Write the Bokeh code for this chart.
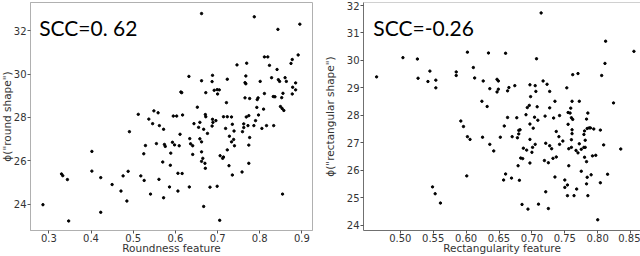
from bokeh.plotting import figure
from bokeh.layouts import row
from bokeh.models import FixedTicker, Range1d, Label, NumeralTickFormatter, LinearAxis
from bokeh.embed import file_html
from bokeh.resources import INLINE

# ---- left panel: roundness feature vs phi("round shape") ----
round_x = [0.512, 0.549, 0.559, 0.662, 0.787, 0.843, 0.895, 0.811, 0.819, 0.891,
           0.877, 0.874, 0.746, 0.769, 0.823, 0.841, 0.632, 0.688, 0.662, 0.687,
           0.723, 0.767, 0.765, 0.767, 0.801, 0.828, 0.844, 0.847, 0.860, 0.863,
           0.885, 0.878, 0.885, 0.613, 0.615, 0.672, 0.692, 0.699, 0.704, 0.700,
           0.811, 0.832, 0.836, 0.855, 0.877, 0.852, 0.765, 0.776, 0.796, 0.794,
           0.721, 0.652, 0.793, 0.809, 0.849, 0.853, 0.857, 0.595, 0.603, 0.617,
           0.671, 0.672, 0.714, 0.723, 0.733, 0.768, 0.774, 0.797, 0.537, 0.546,
           0.562, 0.572, 0.491, 0.529, 0.555, 0.574, 0.576, 0.589, 0.525, 0.402,
           0.570, 0.588, 0.402, 0.330, 0.333, 0.344, 0.423, 0.488, 0.476, 0.518,
           0.526, 0.561, 0.450, 0.471, 0.586, 0.541, 0.572, 0.485, 0.286, 0.423,
           0.347, 0.688, 0.696, 0.689, 0.790, 0.644, 0.658, 0.655, 0.667, 0.687,
           0.719, 0.735, 0.739, 0.762, 0.762, 0.772, 0.786, 0.805, 0.816, 0.833,
           0.759, 0.611, 0.676, 0.634, 0.658, 0.662, 0.728, 0.738, 0.733, 0.776,
           0.593, 0.598, 0.609, 0.636, 0.641, 0.740, 0.774, 0.723, 0.662, 0.641,
           0.706, 0.714, 0.712, 0.665, 0.662, 0.670, 0.774, 0.727, 0.671, 0.758,
           0.606, 0.616, 0.735, 0.633, 0.682, 0.699, 0.606, 0.854, 0.667, 0.705]
round_y = [28.14, 28.30, 28.21, 32.79, 32.64, 32.06, 32.30, 30.79, 30.79, 30.88,
           30.67, 30.49, 30.42, 30.50, 30.40, 30.21, 29.89, 29.94, 29.69, 29.65,
           29.76, 29.91, 29.60, 29.55, 29.66, 29.83, 29.74, 29.66, 29.83, 29.66,
           29.59, 29.39, 29.27, 29.17, 29.14, 29.14, 29.25, 29.28, 29.27, 29.08,
           29.10, 28.96, 28.95, 29.11, 29.08, 28.91, 28.90, 28.87, 28.90, 28.82,
           28.68, 28.47, 28.46, 28.38, 28.50, 28.41, 28.32, 28.06, 28.06, 28.11,
           28.13, 28.03, 28.03, 28.03, 28.02, 28.02, 28.08, 28.11, 27.92, 27.71,
           27.62, 27.45, 27.34, 26.70, 26.79, 26.75, 26.66, 26.35, 26.32, 26.43,
           25.94, 25.79, 25.52, 25.39, 25.31, 25.13, 25.22, 25.51, 25.30, 25.30,
           25.09, 25.14, 24.90, 24.60, 24.79, 24.46, 24.29, 24.14, 23.97, 23.62,
           23.22, 27.91, 27.85, 27.77, 27.85, 27.71, 27.77, 27.54, 27.45, 27.60,
           27.49, 27.68, 27.37, 27.70, 27.53, 27.62, 27.62, 27.49, 27.62, 27.62,
           27.34, 27.22, 27.26, 27.02, 27.01, 26.87, 27.13, 26.98, 26.87, 27.07,
           26.85, 26.73, 26.69, 26.78, 26.69, 26.69, 26.72, 26.50, 26.41, 26.29,
           26.23, 26.17, 26.11, 26.11, 25.97, 25.88, 25.88, 25.77, 25.65, 25.48,
           25.42, 25.41, 25.34, 24.79, 24.78, 24.82, 24.60, 24.46, 23.89, 23.25]

# ---- right panel: rectangularity feature vs phi("rectangular shape") ----
rect_x = [0.464, 0.504, 0.526, 0.527, 0.545, 0.542, 0.554, 0.554, 0.585, 0.585,
          0.602, 0.611, 0.613, 0.634, 0.626, 0.636, 0.647, 0.649, 0.649, 0.647,
          0.624, 0.632, 0.714, 0.660, 0.707, 0.812, 0.855, 0.811, 0.762, 0.770,
          0.806, 0.717, 0.723, 0.697, 0.705, 0.674, 0.665, 0.663, 0.753, 0.706,
          0.727, 0.698, 0.735, 0.761, 0.772, 0.824, 0.693, 0.696, 0.708, 0.727,
          0.759, 0.755, 0.758, 0.785, 0.691, 0.742, 0.720, 0.592, 0.596, 0.602,
          0.606, 0.625, 0.652, 0.636, 0.642, 0.601, 0.549, 0.553, 0.561, 0.663,
          0.677, 0.704, 0.709, 0.733, 0.760, 0.762, 0.783, 0.658, 0.697, 0.702,
          0.682, 0.680, 0.737, 0.755, 0.761, 0.780, 0.784, 0.787, 0.789, 0.794,
          0.804, 0.779, 0.680, 0.670, 0.678, 0.741, 0.761, 0.697, 0.760, 0.747,
          0.781, 0.705, 0.701, 0.721, 0.727, 0.730, 0.742, 0.772, 0.687, 0.692,
          0.700, 0.756, 0.760, 0.767, 0.770, 0.775, 0.779, 0.781, 0.809, 0.835,
          0.792, 0.797, 0.780, 0.783, 0.683, 0.686, 0.719, 0.725, 0.732, 0.737,
          0.697, 0.679, 0.756, 0.775, 0.815, 0.660, 0.657, 0.669, 0.681, 0.735,
          0.750, 0.784, 0.790, 0.804, 0.754, 0.750, 0.783, 0.768, 0.721, 0.754,
          0.764, 0.785, 0.685, 0.694, 0.710, 0.725, 0.800]
rect_y = [29.40, 30.10, 30.05, 29.35, 29.61, 29.23, 29.28, 29.00, 29.58, 29.45,
          30.30, 29.74, 29.36, 30.27, 29.25, 28.97, 29.31, 29.25, 28.95, 28.85,
          28.51, 28.32, 31.73, 30.26, 30.06, 30.70, 30.33, 29.89, 29.48, 29.52,
          29.45, 29.25, 29.13, 29.11, 29.08, 29.08, 29.01, 28.89, 29.00, 28.87,
          28.87, 28.68, 28.51, 28.51, 28.51, 28.45, 28.28, 28.36, 28.31, 28.27,
          28.26, 28.10, 28.08, 28.08, 28.02, 27.99, 27.97, 27.79, 27.59, 27.22,
          27.12, 27.20, 27.20, 26.94, 26.70, 25.79, 25.39, 25.14, 24.80, 27.92,
          27.91, 27.93, 27.82, 27.90, 27.91, 27.85, 27.86, 27.61, 27.68, 27.53,
          27.47, 27.45, 27.41, 27.67, 27.47, 27.43, 27.52, 27.54, 27.54, 27.50,
          27.46, 27.30, 27.32, 27.22, 27.18, 27.22, 27.33, 27.12, 27.11, 27.06,
          27.09, 26.94, 26.83, 26.98, 26.89, 26.78, 26.94, 26.96, 26.80, 26.73,
          26.65, 26.78, 26.83, 26.72, 26.63, 26.76, 26.83, 26.83, 26.92, 26.77,
          26.52, 26.54, 26.47, 26.31, 26.44, 26.42, 26.35, 26.27, 26.43, 26.48,
          26.26, 26.16, 26.16, 25.96, 25.85, 25.86, 25.64, 25.71, 25.63, 25.75,
          25.64, 25.74, 25.83, 25.54, 25.46, 25.37, 25.50, 25.31, 25.21, 25.07,
          25.07, 25.07, 24.75, 24.58, 24.76, 24.60, 24.19]

left_xticks = [0.3, 0.4, 0.5, 0.6, 0.7, 0.8, 0.9]
left_yticks = [24, 26, 28, 30, 32]
right_xticks = [0.50, 0.55, 0.60, 0.65, 0.70, 0.75, 0.80, 0.85]
right_yticks = [24, 25, 26, 27, 28, 29, 30, 31, 32]

left_scc = "SCC=0. 62"
right_scc = "SCC=-0.26"
left_xlabel = "Roundness feature"
left_ylabel = "\u03d5(\"round shape\")"
right_xlabel = "Rectangularity feature"
right_ylabel = "\u03d5(\"rectangular shape\")"

TICK_FONT = "DejaVu Sans"
TEXT_COLOR = "#333333"


def style(p, xticks, yticks, xfmt, ylabel_standoff, spine):
    p.grid.visible = False
    p.background_fill_color = "white"
    p.border_fill_color = "white"
    for ax in (p.xaxis[0], p.yaxis[0]):
        ax.axis_line_color = spine
        ax.major_tick_line_color = "#555555"
        ax.major_tick_out = 3
        ax.major_tick_in = 0
        ax.minor_tick_line_color = None
        ax.major_label_text_font = TICK_FONT
        ax.major_label_text_font_size = "10px"
        ax.major_label_text_color = TEXT_COLOR
        ax.major_label_text_line_height = 0.9
        ax.axis_label_text_font = TICK_FONT
        ax.axis_label_text_font_size = "10.5px"
        ax.axis_label_text_font_style = "normal"
        ax.axis_label_text_color = TEXT_COLOR
        ax.axis_label_text_line_height = 0.9
        ax.major_label_standoff = 1
    p.xaxis[0].major_label_standoff = 0
    p.xaxis[0].ticker = FixedTicker(ticks=xticks)
    p.yaxis[0].ticker = FixedTicker(ticks=yticks)
    p.xaxis[0].formatter = NumeralTickFormatter(format=xfmt)
    p.xaxis[0].axis_label_standoff = -3
    p.yaxis[0].axis_label_standoff = ylabel_standoff


# left figure is 3px wider and pulled 3px left, so its empty outer padding is off-screen
p1 = figure(width=323, height=256, output_backend="svg", toolbar_location=None,
            x_range=Range1d(0.2565, 0.925), y_range=Range1d(22.78, 33.30),
            min_border_left=0, min_border_right=8, min_border_top=0, min_border_bottom=0,
            x_axis_label=left_xlabel, y_axis_label=left_ylabel)
p1.styles = {"margin-left": "-3px"}
style(p1, left_xticks, left_yticks, "0.0", -2, "#b0b0b0")
p1.outline_line_color = "#b0b0b0"
p1.scatter(round_x, round_y, size=2.4, color="black")
p1.add_layout(Label(x=0.277, y=32.15, text=left_scc,
                    text_font="Lato", text_font_size="21px", text_color="black",
                    text_baseline="alphabetic"))

p2 = figure(width=320, height=256, output_backend="svg", toolbar_location=None,
            x_range=Range1d(0.4441, 0.865), y_range=Range1d(23.80, 32.11),
            min_border_left=43, min_border_right=0, min_border_top=2, min_border_bottom=0,
            x_axis_label=right_xlabel, y_axis_label=right_ylabel)
style(p2, right_xticks, right_yticks, "0.00", 8, "#707070")
p2.outline_line_color = None
top_spine = LinearAxis(ticker=FixedTicker(ticks=[]), axis_line_color="#d0d0d0",
                       major_tick_out=0, major_tick_in=0, minor_tick_line_color=None,
                       major_label_text_font_size="0px")
p2.add_layout(top_spine, "above")
p2.scatter(rect_x, rect_y, size=2.4, color="black")
p2.add_layout(Label(x=0.459, y=31.20, text=right_scc,
                    text_font="Lato", text_font_size="21px", text_color="black",
                    text_baseline="alphabetic"))

layout = row(p1, p2, spacing=0)

html = file_html(layout, INLINE)
html = html.replace("<head>", "<head><style>html,body{margin:0;padding:0;overflow:hidden;}</style>", 1)
open("out.html", "w").write(html)
